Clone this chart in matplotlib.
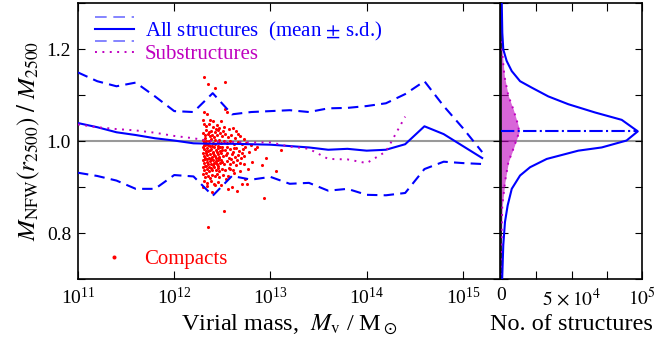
import matplotlib
matplotlib.use("Agg")
import matplotlib.pyplot as plt
import numpy as np
from matplotlib.lines import Line2D
from matplotlib.legend_handler import HandlerBase
from matplotlib.ticker import MultipleLocator, FixedLocator, FixedFormatter, NullLocator, FormatStrFormatter

plt.rcParams["font.family"] = ["Liberation Serif", "DejaVu Serif"]
plt.rcParams["mathtext.fontset"] = "stix"

# ── Mass-binned profiles (log10 Mv) ─────────────────────────────────────────
logm_bins = [11.0, 11.2, 11.4, 11.6, 11.8, 12.0, 12.2, 12.4, 12.6, 12.8, 13.0,
             13.2, 13.4, 13.6, 13.8, 14.0, 14.2, 14.4, 14.6, 14.8, 15.0, 15.2]
mean_all  = [1.039, 1.030, 1.019, 1.013, 1.006, 1.001, 0.995, 0.994, 0.994, 0.993, 0.992,
             0.989, 0.986, 0.981, 0.983, 0.979, 0.981, 0.993, 1.032, 1.015, 0.989, 0.963]
upper_all = [1.149, 1.130, 1.119, 1.127, 1.097, 1.065, 1.063, 1.104, 1.058, 1.063, 1.065,
             1.067, 1.063, 1.071, 1.072, 1.076, 1.082, 1.102, 1.130, 1.076, 1.028, 0.976]
lower_all = [0.931, 0.924, 0.914, 0.896, 0.896, 0.926, 0.923, 0.881, 0.924, 0.916, 0.922,
             0.907, 0.909, 0.892, 0.896, 0.883, 0.882, 0.887, 0.939, 0.955, 0.952, 0.950]

logm_sub = [11.0, 11.2, 11.4, 11.6, 11.8, 12.0, 12.2, 12.4, 12.6, 12.8, 13.0,
            13.2, 13.4, 13.6, 13.8, 14.0, 14.2, 14.4]
mean_sub = [1.036, 1.030, 1.026, 1.023, 1.018, 1.011, 1.006, 0.999, 0.998, 0.997, 0.997,
            0.988, 0.983, 0.961, 0.960, 0.952, 0.977, 1.053]

# compact haloes: (log10 Mv, M_NFW / M2500)
compacts = [
    (12.31, 1.140), (12.35, 1.125), (12.42, 1.116), (12.53, 1.128), (12.31, 1.064),
    (12.34, 1.058), (12.53, 1.069), (12.55, 1.062), (12.37, 1.046), (12.40, 1.044),
    (12.49, 1.043), (12.30, 1.045), (12.64, 1.022), (12.66, 1.015), (12.95, 0.963),
    (12.91, 0.947), (12.77, 0.940), (12.81, 0.955), (12.72, 0.950), (12.68, 0.935),
    (13.06, 0.934), (13.11, 0.981), (12.93, 0.877), (12.52, 0.847), (12.35, 0.813),
    (12.65, 0.891), (12.56, 0.896), (12.60, 0.900), (12.70, 0.906), (12.76, 0.907),
    (12.39, 0.889), (12.34, 0.902), (12.30, 0.899), (12.42, 0.905), (12.56, 0.923),
    (12.74, 0.918), (12.62, 0.930), (12.58, 0.940),
    (12.31, 1.038), (12.33, 1.032), (12.36, 1.036), (12.40, 1.030), (12.44, 1.034),
    (12.47, 1.028), (12.52, 1.031), (12.57, 1.026), (12.61, 1.029), (12.33, 1.025),
    (12.38, 1.022), (12.42, 1.019), (12.46, 1.024),
    (12.30, 1.018), (12.32, 1.012), (12.35, 1.016), (12.37, 1.010), (12.39, 1.014),
    (12.41, 1.008), (12.44, 1.013), (12.48, 1.017), (12.50, 1.011), (12.53, 1.015),
    (12.56, 1.009), (12.59, 1.013), (12.63, 1.006), (12.68, 1.010), (12.72, 1.004),
    (12.30, 1.003), (12.31, 0.997), (12.33, 1.001), (12.34, 0.994), (12.36, 0.999),
    (12.38, 1.004), (12.40, 0.996), (12.42, 1.002), (12.45, 0.998), (12.47, 1.003),
    (12.49, 0.995), (12.52, 1.000), (12.55, 0.996), (12.58, 1.001), (12.62, 0.994),
    (12.66, 0.998), (12.70, 0.993), (12.75, 0.996), (12.80, 0.991), (12.86, 0.988),
    (12.30, 0.988), (12.31, 0.982), (12.32, 0.991), (12.34, 0.985), (12.35, 0.979),
    (12.37, 0.989), (12.38, 0.983), (12.40, 0.977), (12.41, 0.987), (12.43, 0.981),
    (12.45, 0.990), (12.46, 0.984), (12.48, 0.978), (12.50, 0.986), (12.53, 0.980),
    (12.55, 0.988), (12.58, 0.982), (12.61, 0.976), (12.64, 0.985), (12.67, 0.979),
    (12.71, 0.983), (12.78, 0.977), (12.84, 0.982),
    (12.30, 0.973), (12.31, 0.967), (12.33, 0.975), (12.34, 0.969), (12.36, 0.963),
    (12.37, 0.972), (12.39, 0.966), (12.40, 0.974), (12.42, 0.968), (12.43, 0.962),
    (12.45, 0.971), (12.47, 0.965), (12.49, 0.973), (12.51, 0.967), (12.54, 0.970),
    (12.57, 0.964), (12.60, 0.972), (12.63, 0.966), (12.66, 0.969), (12.69, 0.963),
    (12.73, 0.968),
    (12.30, 0.958), (12.31, 0.952), (12.32, 0.960), (12.34, 0.955), (12.35, 0.949),
    (12.37, 0.957), (12.38, 0.951), (12.40, 0.959), (12.41, 0.953), (12.43, 0.956),
    (12.44, 0.950), (12.46, 0.958), (12.48, 0.952), (12.50, 0.955), (12.52, 0.949),
    (12.55, 0.957), (12.58, 0.951), (12.61, 0.955), (12.64, 0.948), (12.68, 0.953),
    (12.30, 0.943), (12.31, 0.937), (12.33, 0.945), (12.34, 0.939), (12.36, 0.934),
    (12.38, 0.942), (12.39, 0.936), (12.41, 0.944), (12.43, 0.938), (12.45, 0.941),
    (12.47, 0.935), (12.50, 0.940), (12.53, 0.936), (12.57, 0.942), (12.61, 0.938),
    (12.30, 0.928), (12.32, 0.922), (12.33, 0.930), (12.35, 0.925), (12.37, 0.919),
    (12.39, 0.927), (12.42, 0.923), (12.44, 0.929), (12.47, 0.921), (12.51, 0.926),
    (12.54, 0.918),
    (12.31, 0.912), (12.34, 0.908), (12.38, 0.914), (12.41, 0.906), (12.45, 0.911),
    (12.49, 0.904),
    (12.305, 0.991), (12.315, 0.962), (12.325, 0.946), (12.335, 0.978), (12.345, 0.960),
    (12.355, 0.992), (12.365, 0.944), (12.375, 0.980), (12.385, 0.960), (12.395, 0.990),
    (12.405, 0.948), (12.415, 0.970), (12.425, 0.994), (12.435, 0.952), (12.445, 0.976),
    (12.455, 0.946), (12.465, 0.962), (12.475, 0.988), (12.485, 0.958), (12.495, 0.980),
    (12.32, 1.006), (12.36, 1.020), (12.43, 1.026), (12.51, 1.021), (12.55, 0.975),
    (12.59, 0.960), (12.62, 0.985), (12.65, 0.958), (12.70, 0.975), (12.74, 0.987),
]

# ── Distribution of the ratio (right panel) ──────────────────────────────────
hist_ratio_all = [1.300, 1.235, 1.199, 1.174, 1.152, 1.130, 1.116, 1.097, 1.080, 1.062, 1.046,
                  1.021, 1.001, 0.986, 0.979, 0.961, 0.943, 0.925, 0.896, 0.860, 0.824,
                  0.774, 0.709, 0.700]
hist_count_all = [500, 900, 1600, 4000, 7600, 13500, 21800, 33500, 47700, 66700, 85600,
                  97000, 89000, 71400, 54800, 32400, 20600, 13500, 7600, 4700, 2800,
                  1600, 900, 800]
hist_ratio_sub = [1.217, 1.180, 1.141, 1.098, 1.069, 1.033, 1.019, 1.004, 0.983, 0.954,
                  0.911, 0.860, 0.810, 0.700]
hist_count_sub = [300, 1200, 2400, 5200, 8700, 12300, 12800, 11100, 8700, 5200,
                  2800, 900, 500, 200]

BLUE = "b"
MAG = "m"
DASH = (0, (5, 3))
DOT = (0, (1, 2.8))


class MeanSdHandler(HandlerBase):
    """Legend key: solid mean line between two dashed s.d. lines."""
    def create_artists(self, legend, orig_handle, xdescent, ydescent,
                       width, height, fontsize, trans):
        x0, x1 = -xdescent, width - xdescent
        yc = height / 2 - ydescent
        off = 0.8 * height
        arts = []
        for dy in (off, -off):
            ln = Line2D([x0, x1], [yc + dy, yc + dy], color="#6f6fff", lw=1.2,
                        linestyle=(0, (7, 4)))
            ln.set_transform(trans)
            arts.append(ln)
        ln = Line2D([x0, x1], [yc, yc], color=BLUE, lw=1.5)
        ln.set_transform(trans)
        arts.append(ln)
        return arts


fig = plt.figure(figsize=(6.66, 3.42), dpi=100)
ax = fig.add_axes([0.1171, 0.1842, 0.6336, 0.807])
ax2 = fig.add_axes([0.7523, 0.1842, 0.2117, 0.807])

# ── Main panel ───────────────────────────────────────────────────────────────
m_all = 10 ** np.array(logm_bins)
m_sub = 10 ** np.array(logm_sub)
cm = np.array(compacts)

ax.axhline(1.0, color="0.6", lw=1.5, zorder=1)
ax.plot(m_all, upper_all, color=BLUE, lw=1.5, ls=DASH, zorder=3)
ax.plot(m_all, lower_all, color=BLUE, lw=1.5, ls=DASH, zorder=3)
h_mean, = ax.plot(m_all, mean_all, color=BLUE, lw=1.5, zorder=3)
h_sub, = ax.plot(m_sub, mean_sub, color=MAG, lw=1.4, ls=DOT, zorder=3)
h_cmp = ax.scatter(10 ** cm[:, 0], cm[:, 1], s=5, color="r", marker="o",
                   linewidths=0, zorder=2)

ax.set_xscale("log")
ax.set_xlim(1e11, 10 ** 15.385)
ax.set_ylim(0.7, 1.3)
ax.xaxis.set_minor_locator(NullLocator())
ax.yaxis.set_major_locator(MultipleLocator(0.2))
ax.yaxis.set_minor_locator(MultipleLocator(0.1))
ax.yaxis.set_major_formatter(FormatStrFormatter("%.1f"))
ax.tick_params(which="both", direction="in", top=True, right=True,
               labelsize=14, width=0.8)
ax.tick_params(axis="x", which="major", length=6, pad=6)
ax.tick_params(axis="y", which="both", length=5, pad=5)

ax.set_xlabel(r"Virial mass,  $M_{\rm v}$ / M$_\odot$", fontsize=17.5, labelpad=3)
ax.set_ylabel(r"$M_{\rm NFW}(r_{2500})\ /\ M_{2500}$", fontsize=18, labelpad=3)

leg1 = ax.legend([h_mean, h_sub],
                 [r"All structures  (mean $\pm$ s.d.)", "Substructures"],
                 handler_map={h_mean: MeanSdHandler()},
                 loc="upper left", frameon=False, fontsize=15,
                 handlelength=1.9, handletextpad=0.5, labelspacing=0.08,
                 borderaxespad=0.4)
for txt, c in zip(leg1.get_texts(), [BLUE, MAG]):
    txt.set_color(c)
ax.add_artist(leg1)

leg2 = ax.legend([h_cmp], ["Compacts"], loc="lower left",
                 bbox_to_anchor=(0.0162, 0.0), frameon=False,
                 fontsize=15, handlelength=1.9, handletextpad=0.5,
                 scatterpoints=1, scatteryoffsets=[0.5], markerscale=1.3,
                 borderaxespad=0.07)
for txt in leg2.get_texts():
    txt.set_color("r")

# ── Right panel: counts ──────────────────────────────────────────────────────
ax2.axhline(1.0, color="0.6", lw=1.5, zorder=1)
ax2.fill_betweenx(hist_ratio_sub, 0, hist_count_sub, color=MAG, alpha=0.6,
                  lw=0, zorder=2)
ax2.plot(hist_count_sub, hist_ratio_sub, color=MAG, lw=1.4, ls=DOT, zorder=3)
ax2.plot(hist_count_all, hist_ratio_all, color=BLUE, lw=1.5, zorder=3)
i_pk = int(np.argmax(hist_count_all))
ax2.plot([0, hist_count_all[i_pk]], [hist_ratio_all[i_pk]] * 2, color=BLUE,
         lw=1.5, ls="-.", zorder=3)

ax2.set_xlim(0, 1e5)
ax2.set_ylim(0.7, 1.3)
ax2.xaxis.set_major_locator(FixedLocator([0, 2.5e4, 5e4, 7.5e4, 1e5]))
ax2.xaxis.set_major_formatter(FixedFormatter(["0", "", r"$5\,\times 10^4$", "", r"$10^5$"]))
ax2.yaxis.set_major_locator(MultipleLocator(0.1))
ax2.tick_params(which="both", direction="in", top=True, right=True,
                labelsize=14, width=0.8, labelleft=False)
ax2.tick_params(axis="x", length=6, pad=6)
ax2.tick_params(axis="y", length=5)
ax2.set_xlabel("No. of structures", fontsize=17.5, labelpad=3)

for a in (ax, ax2):
    for sp in a.spines.values():
        sp.set_linewidth(1.2)

fig.savefig("out.png", dpi=100)
